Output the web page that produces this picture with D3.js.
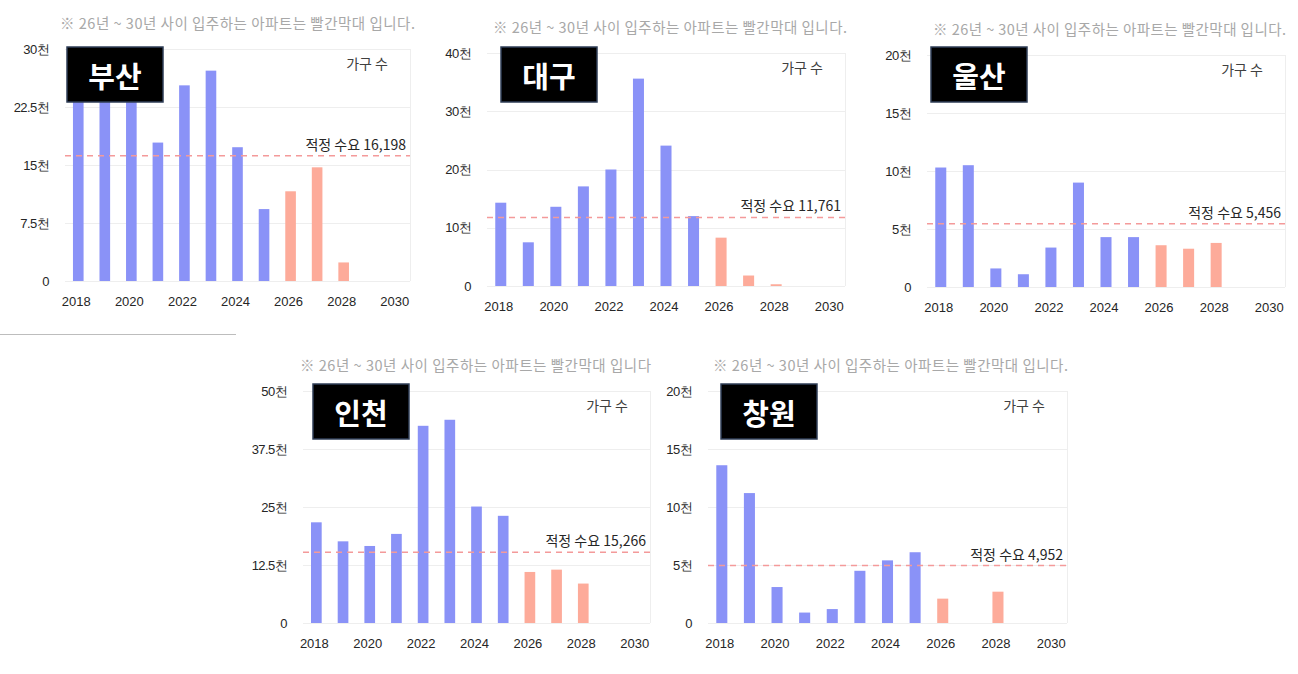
<!DOCTYPE html>
<html><head><meta charset="utf-8">
<script src="https://cdn.jsdelivr.net/npm/d3@7"></script>
<style>
html,body{margin:0;padding:0;background:#fff;}
svg{display:block;font-family:"Noto Sans CJK KR","Noto Sans",sans-serif;}
</style></head><body>
<svg id="c" width="1298" height="674"></svg>
<script>
// ---- data ----
const years = [2018,2019,2020,2021,2022,2023,2024,2025,2026,2027,2028,2029,2030];
const yearTicks = [2018,2020,2022,2024,2026,2028,2030];
const cities = ["부산","대구","울산","인천","창원"];
const busan   = [25000,25000,24500,17900,25300,27200,17300,9300,11600,14700,2400,0,0];
const daegu   = [14300,7500,13600,17100,20000,35600,24100,12000,8300,1800,300,0,0];
const ulsan   = [10300,10500,1600,1100,3400,9000,4300,4300,3600,3300,3800,0,0];
const incheon = [21700,17600,16600,19200,42500,43800,25100,23100,11000,11500,8500,0,0];
const changwon= [13600,11200,3100,900,1200,4500,5400,6100,2100,0,2700,0,0];
const demand  = [16198,11761,5456,15266,4952];
const yMax    = [30000,40000,20000,50000,20000];
const futureFrom = 2026;
const noteText = ["※ 26년 ~ 30년 사이 입주하는 아파트는 빨간막대 입니다.",
                  "※ 26년 ~ 30년 사이 입주하는 아파트는 빨간막대 입니다.",
                  "※ 26년 ~ 30년 사이 입주하는 아파트는 빨간막대 입니다.",
                  "※ 26년 ~ 30년 사이 입주하는 아파트는 빨간막대 입니다",
                  "※ 26년 ~ 30년 사이 입주하는 아파트는 빨간막대 입니다."];
const unitLabel = "가구 수";
const demandPrefix = "적정 수요 ";
const seriesValues = [busan,daegu,ulsan,incheon,changwon];

// ---- layout (positions only) ----
const layout = [
  {l:65,  r:410,  t:49,  b:281, noteX:60,  noteW:355, boxX:67,  boxY:47},
  {l:487, r:845,  t:53,  b:286, noteX:493, noteW:354, boxX:501, boxY:47},
  {l:927, r:1285, t:55,  b:287, noteX:933, noteW:353, boxX:931, boxY:47},
  {l:303, r:650,  t:391, b:623, noteX:300, noteW:351, boxX:313, boxY:384},
  {l:708, r:1067, t:391, b:623, noteX:713, noteW:355, boxX:721, boxY:384}
];

const svg = d3.select("#c");
const BLUE = "#8a92f7", SALMON = "#fdab9a";

// separator line
svg.append("line").attr("x1",0).attr("x2",236).attr("y1",334.5).attr("y2",334.5)
   .attr("stroke","#bdbdbd").attr("stroke-width",1.2);

cities.forEach((city,i)=>{
  const L = layout[i];
  const g = svg.append("g");
  const x = d3.scaleBand().domain(years).range([L.l,L.r]).paddingInner(0.6).paddingOuter(0.3);
  const y = d3.scaleLinear().domain([0,yMax[i]]).range([L.b,L.t]);
  const yt = d3.range(0,yMax[i]+1,yMax[i]/4);

  // note
  g.append("text").attr("x",L.noteX).attr("y",L.t-27).attr("dominant-baseline","central")
    .attr("font-size",14.5).attr("fill","#a8a8a8")
    .attr("textLength",L.noteW).attr("lengthAdjust","spacing").text(noteText[i]);

  // grid
  g.selectAll(".grid").data(yt).join("line")
    .attr("x1",L.l).attr("x2",L.r).attr("y1",d=>Math.round(y(d))+0.5).attr("y2",d=>Math.round(y(d))+0.5)
    .attr("stroke","#eeeeee").attr("stroke-width",1);
  g.append("line").attr("x1",L.r+0.5).attr("x2",L.r+0.5).attr("y1",L.t).attr("y2",L.b)
    .attr("stroke","#eeeeee");

  // y axis
  const ya = d3.axisLeft(y).tickValues(yt).tickSize(0).tickPadding(16)
    .tickFormat(d=> d===0 ? "0" : (d/1000)+"천");
  const yg = g.append("g").attr("transform",`translate(${L.l},0)`).call(ya);
  yg.select(".domain").remove();
  yg.selectAll("text").attr("font-size",13).attr("fill","#262626").attr("font-family",null)
    .attr("letter-spacing","-0.6");

  // x axis
  const xa = d3.axisBottom(x).tickValues(yearTicks).tickSize(0).tickPadding(16);
  const xg = g.append("g").attr("transform",`translate(-2,${L.b})`).call(xa);
  xg.select(".domain").remove();
  xg.selectAll("text").attr("font-size",13).attr("fill","#262626").attr("font-family",null);

  // bars
  g.selectAll(".bar").data(years.map((yr,k)=>({yr,v:seriesValues[i][k]})).filter(d=>d.v>0))
    .join("rect")
    .attr("x",d=>x(d.yr)).attr("width",x.bandwidth())
    .attr("y",d=>y(d.v)).attr("height",d=>L.b-y(d.v))
    .attr("fill",d=>d.yr>=futureFrom?SALMON:BLUE);

  // demand line
  const dy = y(demand[i]);
  g.append("line").attr("x1",L.l).attr("x2",L.r).attr("y1",dy).attr("y2",dy)
    .attr("stroke","#f49a9a").attr("stroke-width",1.5).attr("stroke-dasharray","6,5");
  g.append("text").attr("x",L.r-4).attr("y",dy-6).attr("text-anchor","end")
    .attr("font-size",14).attr("fill","#262626")
    .text(demandPrefix + d3.format(",")(demand[i]));

  // unit label
  g.append("text").attr("x",L.r-22).attr("y",L.t+14).attr("text-anchor","end")
    .attr("dominant-baseline","central").attr("font-size",14).attr("fill","#404040").text(unitLabel);

  // title box
  g.append("rect").attr("x",L.boxX).attr("y",L.boxY).attr("width",96).attr("height",55)
    .attr("fill","#000").attr("stroke","#2f3e57").attr("stroke-width",1.5);
  g.append("text").attr("x",L.boxX+48).attr("y",L.boxY+28).attr("text-anchor","middle")
    .attr("dominant-baseline","central").attr("font-size",29).attr("font-weight","bold")
    .attr("fill","#fff").text(city);
});
</script>
</body></html>
